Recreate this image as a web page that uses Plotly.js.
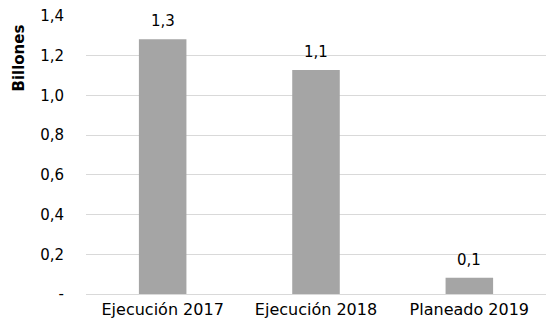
<!DOCTYPE html>
<html>
<head>
<meta charset="utf-8">
<script src="https://cdn.plot.ly/plotly-3.0.1.min.js"></script>
<style>html,body{margin:0;padding:0;background:#fff;}#chart{width:546px;height:324px;}</style>
</head>
<body>
<div id="chart"></div>
<script>
const categories = ["Ejecución 2017", "Ejecución 2018", "Planeado 2019"];
const values = [1.283, 1.128, 0.082];
const valueLabels = ["1,3", "1,1", "0,1"];
const yTickVals = [0, 0.2, 0.4, 0.6, 0.8, 1.0, 1.2, 1.4];
const yTickText = ["-", "0,2", "0,4", "0,6", "0,8", "1,0", "1,2", "1,4"];
const yTitle = "Billones";

const font = "DejaVu Sans, Verdana, sans-serif";
const fs = 15;

const labelAnns = categories.map((c, i) => ({
  x: c, y: values[i], xref: "x", yref: "y",
  text: valueLabels[i], showarrow: false,
  xanchor: "center", yanchor: "bottom", yshift: 7,
  font: {family: font, size: fs, color: "#000"}
}));

Plotly.newPlot("chart", [{
  type: "bar",
  x: categories,
  y: values,
  marker: {color: "#a5a5a5"},
  hoverinfo: "none"
}], {
  width: 546, height: 324,
  margin: {l: 86, r: 0, t: 16, b: 30},
  separators: ",.",
  bargap: 0.69,
  paper_bgcolor: "#fff", plot_bgcolor: "#fff",
  showlegend: false,
  font: {family: font, size: fs, color: "#000"},
  xaxis: {
    showgrid: false, zeroline: false, showline: false,
    ticks: "", ticklabelstandoff: 4,
    tickfont: {family: font, size: 16, color: "#000"}
  },
  yaxis: {
    range: [0, 1.4], tickvals: yTickVals, ticktext: yTickText,
    showgrid: true, gridcolor: "#d9d9d9", gridwidth: 1,
    zeroline: true, zerolinecolor: "#d9d9d9", zerolinewidth: 1,
    showline: false, ticks: "", ticklabelstandoff: 21,
    tickfont: {family: font, size: fs, color: "#000"}
  },
  annotations: labelAnns.concat([{
    text: "<b>" + yTitle + "</b>", textangle: -90,
    xref: "paper", yref: "paper", x: -0.146, y: 0.85,
    xanchor: "center", yanchor: "middle", showarrow: false,
    font: {family: font, size: fs, color: "#000"}
  }])
}, {staticPlot: true});
</script>
</body>
</html>
